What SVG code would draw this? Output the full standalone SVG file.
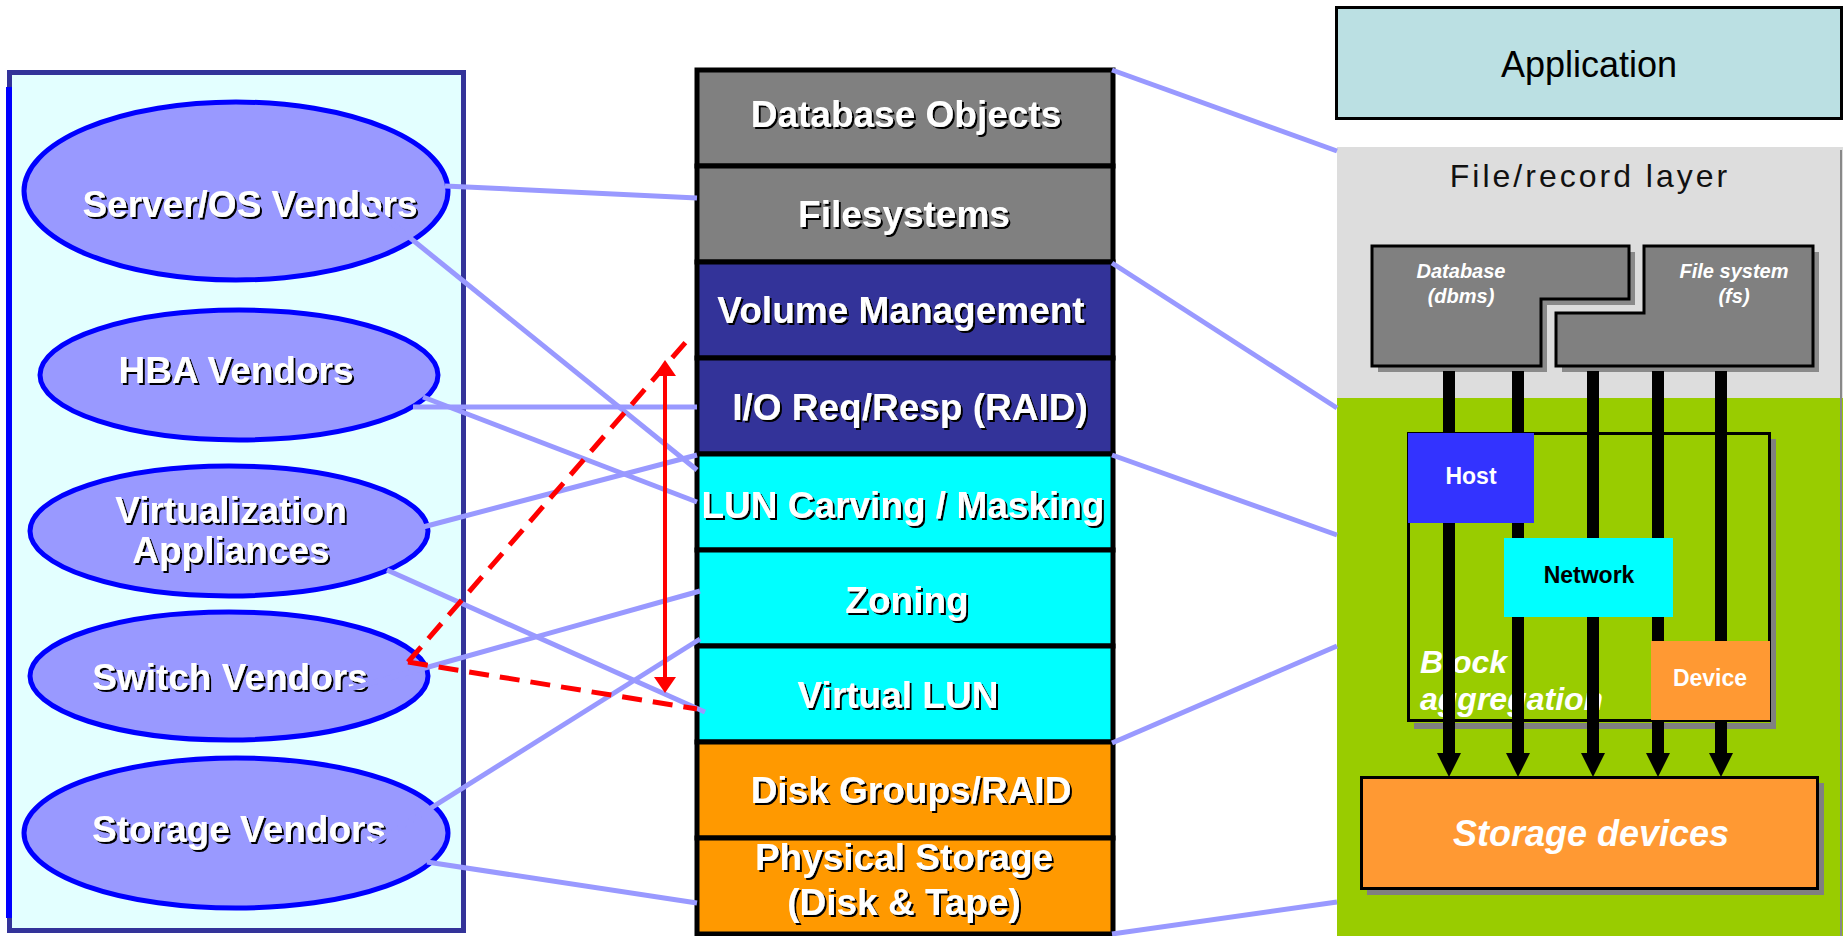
<svg xmlns="http://www.w3.org/2000/svg" width="1843" height="936" viewBox="0 0 1843 936">
<defs>
<style>
.lbl{font-family:"Liberation Sans",Arial,sans-serif;font-weight:bold;font-size:37px;fill:#fff;text-anchor:middle;filter:url(#sh)}
.ell{fill:#9999FF;stroke:#0000FF;stroke-width:5}
.lay{stroke:#000;stroke-width:5}
.con{stroke:#9999FF;stroke-width:5;fill:none}
.red{stroke:#FF0000;stroke-width:5;fill:none;stroke-dasharray:20 11}
.sm{font-family:"Liberation Sans",Arial,sans-serif;font-weight:bold;font-size:23px;text-anchor:middle}
.it{font-family:"Liberation Sans",Arial,sans-serif;font-weight:bold;font-style:italic;fill:#fff}
.bar{fill:#000}
</style>
<filter id="sh" x="-5%" y="-20%" width="110%" height="150%"><feDropShadow dx="2" dy="2" stdDeviation="0" flood-color="#000" flood-opacity="1"/></filter>
</defs>
<rect width="1843" height="936" fill="#fff"/>

<g id="vendors-panel">
<rect x="9.5" y="72.5" width="454" height="858" fill="#E3FFFF" stroke="#333399" stroke-width="5"/>
<line x1="9" y1="87" x2="9" y2="918" stroke="#0000FF" stroke-width="6"/>
</g>
<g id="server-os"><ellipse class="ell" cx="236" cy="191" rx="212" ry="89"/><text class="lbl" x="250" y="217">Server/OS Vendors</text></g>
<g id="hba"><ellipse class="ell" cx="239" cy="375" rx="199" ry="65"/><text class="lbl" x="236" y="383">HBA Vendors</text></g>
<g id="virtualization"><ellipse class="ell" cx="229" cy="531" rx="199" ry="65"/><text class="lbl" x="231" y="523">Virtualization</text><text class="lbl" x="231" y="563">Appliances</text></g>
<g id="switch"><ellipse class="ell" cx="229" cy="676" rx="199" ry="64"/><text class="lbl" x="230" y="690">Switch Vendors</text></g>
<g id="storage-vendors"><ellipse class="ell" cx="236" cy="833" rx="212" ry="75"/><text class="lbl" x="239" y="842">Storage Vendors</text></g>

<g id="stack">
<g id="db-objects"><rect class="lay" x="697" y="70" width="416" height="96" fill="#808080"/><text class="lbl" x="906" y="127">Database Objects</text></g>
<g id="filesystems"><rect class="lay" x="697" y="166" width="416" height="96" fill="#808080"/><text class="lbl" x="904" y="227">Filesystems</text></g>
<g id="volume"><rect class="lay" x="697" y="262" width="416" height="96" fill="#333399"/><text class="lbl" x="901" y="323">Volume Management</text></g>
<g id="io"><rect class="lay" x="697" y="358" width="416" height="96" fill="#333399"/><text class="lbl" x="910" y="420">I/O Req/Resp (RAID)</text></g>
<g id="lun"><rect class="lay" x="697" y="454" width="416" height="96" fill="#00FFFF"/><text class="lbl" x="903" y="518">LUN Carving / Masking</text></g>
<g id="zoning"><rect class="lay" x="697" y="550" width="416" height="96" fill="#00FFFF"/><text class="lbl" x="907" y="613">Zoning</text></g>
<g id="vlun"><rect class="lay" x="697" y="646" width="416" height="96" fill="#00FFFF"/><text class="lbl" x="898" y="708">Virtual LUN</text></g>
<g id="diskgroups"><rect class="lay" x="697" y="742" width="416" height="96" fill="#FF9900"/><text class="lbl" x="911" y="803">Disk Groups/RAID</text></g>
<g id="physical"><rect class="lay" x="697" y="838" width="416" height="96" fill="#FF9900"/><text class="lbl" x="904" y="870">Physical Storage</text><text class="lbl" x="904" y="915">(Disk &amp; Tape)</text></g>
</g>

<g id="right-panel">
<rect x="1337" y="147" width="506" height="252" fill="#DDDDDD"/>
<rect x="1337" y="398" width="506" height="538" fill="#99CC00"/>
<line x1="1841" y1="150" x2="1841" y2="936" stroke="#888" stroke-width="2"/>
<text x="1590" y="187" font-family="'Liberation Sans',Arial,sans-serif" font-size="32" letter-spacing="3" text-anchor="middle" fill="#111">File/record layer</text>
</g>
<g id="application"><rect x="1336.5" y="7.5" width="505" height="111" fill="#BBE0E3" stroke="#000" stroke-width="3"/><text x="1589" y="77" font-family="'Liberation Sans',Arial,sans-serif" font-size="36" text-anchor="middle" fill="#000">Application</text></g>
<g id="database">
<polygon points="1378,252 1635,252 1635,305 1547,305 1547,372 1378,372" fill="#8A8A8A"/>
<polygon points="1372,246 1629,246 1629,299 1541,299 1541,366 1372,366" fill="#808080" stroke="#000" stroke-width="3"/>
<text class="it" x="1461" y="278" font-size="20" text-anchor="middle">Database</text><text class="it" x="1461" y="303" font-size="20" text-anchor="middle">(dbms)</text>
</g>
<g id="filesystem">
<polygon points="1650,252 1819,252 1819,372 1562,372 1562,319 1650,319" fill="#8A8A8A"/>
<polygon points="1644,246 1813,246 1813,366 1556,366 1556,313 1644,313" fill="#808080" stroke="#000" stroke-width="3"/>
<text class="it" x="1734" y="278" font-size="20" text-anchor="middle">File system</text><text class="it" x="1734" y="303" font-size="20" text-anchor="middle">(fs)</text>
</g>
<g id="block-aggregation">
<path d="M1773,439 V726 H1414" fill="none" stroke="#808080" stroke-width="6"/>
<rect x="1408.5" y="433.5" width="361" height="287" fill="none" stroke="#000" stroke-width="3"/>
<text class="it" x="1420" y="673" font-size="32">Block</text><text class="it" x="1420" y="710" font-size="32">aggregation</text>
</g>
<g id="flow-arrows">
<rect class="bar" x="1443" y="371" width="12" height="384"/><polygon class="bar" points="1437,753 1461,753 1449,777"/>
<rect class="bar" x="1512" y="371" width="12" height="384"/><polygon class="bar" points="1506,753 1530,753 1518,777"/>
<rect class="bar" x="1587" y="371" width="12" height="384"/><polygon class="bar" points="1581,753 1605,753 1593,777"/>
<rect class="bar" x="1652" y="371" width="12" height="384"/><polygon class="bar" points="1646,753 1670,753 1658,777"/>
<rect class="bar" x="1715" y="371" width="12" height="384"/><polygon class="bar" points="1709,753 1733,753 1721,777"/>
</g>
<g id="host"><rect x="1408" y="433" width="126" height="90" fill="#3333FF"/><text class="sm" x="1471" y="484" fill="#fff">Host</text></g>
<g id="network"><rect x="1504" y="538" width="169" height="79" fill="#00FFFF"/><text class="sm" x="1589" y="583" fill="#000">Network</text></g>
<g id="device"><rect x="1651" y="641" width="119" height="79" fill="#FF9933"/><text class="sm" x="1710" y="686" fill="#fff">Device</text></g>
<g id="storage-devices">
<rect x="1367" y="783" width="457" height="112" fill="#808080"/>
<rect x="1361.5" y="777.5" width="456" height="111" fill="#FF9933" stroke="#000" stroke-width="3"/>
<text class="it" x="1591" y="846" font-size="36" text-anchor="middle">Storage devices</text>
</g>

<g id="connectors">
<line class="con" x1="445" y1="186" x2="697" y2="198"/>
<line class="con" x1="362" y1="199" x2="697" y2="470"/>
<line class="con" x1="413" y1="407" x2="697" y2="407"/>
<line class="con" x1="423" y1="397" x2="697" y2="502"/>
<line class="con" x1="423" y1="527" x2="697" y2="455"/>
<line class="con" x1="387" y1="570" x2="705" y2="712"/>
<line class="con" x1="350" y1="689" x2="700" y2="591"/>
<line class="con" x1="372" y1="845" x2="700" y2="639"/>
<line class="con" x1="427" y1="862" x2="697" y2="903"/>
<line class="con" x1="1112" y1="70" x2="1337" y2="151"/>
<line class="con" x1="1112" y1="263" x2="1337" y2="408"/>
<line class="con" x1="1112" y1="455" x2="1337" y2="535"/>
<line class="con" x1="1112" y1="743" x2="1337" y2="646"/>
<line class="con" x1="1112" y1="934" x2="1337" y2="902"/>
<line class="red" x1="408" y1="662" x2="692" y2="335"/>
<line class="red" x1="408" y1="662" x2="697" y2="709"/>
<line x1="665" y1="374" x2="665" y2="679" stroke="#FF0000" stroke-width="4"/>
<polygon points="665,360 654,376 676,376" fill="#FF0000"/>
<polygon points="665,693 654,677 676,677" fill="#FF0000"/>
</g>
</svg>
